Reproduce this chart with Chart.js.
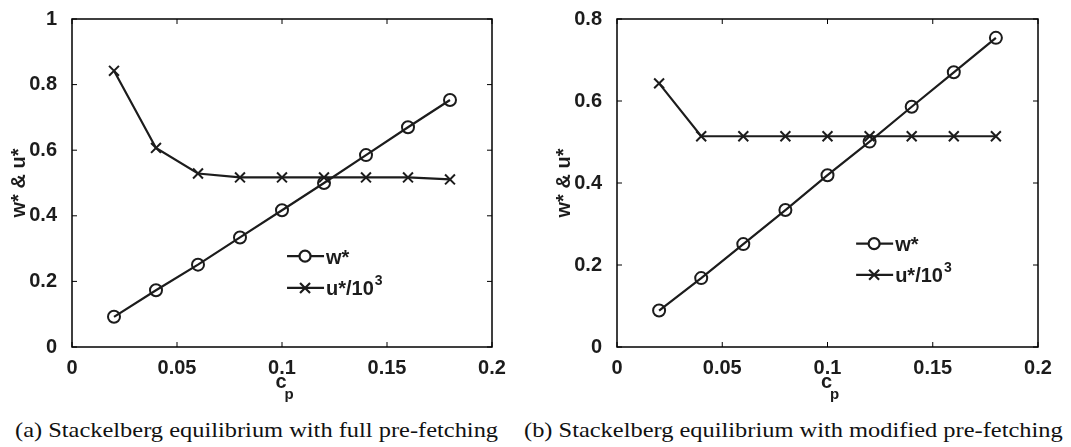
<!DOCTYPE html>
<html>
<head>
<meta charset="utf-8">
<script src="https://cdn.jsdelivr.net/npm/chart.js@4.4.0/dist/chart.umd.min.js"></script>
<style>
  body { margin: 0; background: #fff; width: 1071px; height: 447px; overflow: hidden; position: relative; }
  canvas { position: absolute; top: 0; }
  #chartA { left: 0; }
  #chartB { left: 535px; }
  .cap { position: absolute; top: 417px; font-family: "Liberation Serif", "Times New Roman", serif; font-size: 22px; color: #111; white-space: nowrap; transform: scaleX(1.11); transform-origin: left top; }
</style>
</head>
<body>
<canvas id="chartA" width="535" height="412"></canvas>
<canvas id="chartB" width="536" height="412"></canvas>
<div class="cap" id="capA" style="left:15px"></div>
<div class="cap" id="capB" style="left:524px"></div>
<script>
const cp = [0.02, 0.04, 0.06, 0.08, 0.1, 0.12, 0.14, 0.16, 0.18]
const wFull = [0.092, 0.173, 0.251, 0.334, 0.417, 0.5, 0.585, 0.67, 0.753]
const uFull = [0.842, 0.607, 0.529, 0.517, 0.517, 0.517, 0.517, 0.517, 0.511]
const wMod = [0.089, 0.168, 0.251, 0.334, 0.419, 0.501, 0.586, 0.67, 0.754]
const uMod = [0.643, 0.514, 0.514, 0.514, 0.514, 0.514, 0.514, 0.514, 0.514]
const legendLabels = ['w*', 'u*/10']
const captions = ['(a) Stackelberg equilibrium with full pre-fetching', '(b) Stackelberg equilibrium with modified pre-fetching']

document.getElementById('capA').textContent = captions[0]
document.getElementById('capB').textContent = captions[1]

const ink = '#1c1c1c'
const sans = '"Liberation Sans", Arial, sans-serif'
const boldFont = size => ({ family: sans, size: size, weight: 'bold' })

const toPoints = ys => cp.map((x, i) => ({ x: x, y: ys[i] }))

// box around plot + inward ticks like matlab, x label with subscript, legend
const matlabStuff = {
    id: 'matlabStuff',
    afterDraw(chart, args, opts) {
        const ctx = chart.ctx
        const a = chart.chartArea
        const xs = chart.scales.x, ys = chart.scales.y
        ctx.save()
        ctx.strokeStyle = '#000'
        ctx.lineWidth = 1.5
        ctx.strokeRect(a.left, a.top, a.right - a.left, a.bottom - a.top)
        ctx.lineWidth = 1
        ctx.beginPath()
        xs.ticks.forEach(t => {
            const px = xs.getPixelForValue(t.value)
            ctx.moveTo(px, a.bottom); ctx.lineTo(px, a.bottom - 5)
            ctx.moveTo(px, a.top); ctx.lineTo(px, a.top + 5)
        })
        ys.ticks.forEach(t => {
            const py = ys.getPixelForValue(t.value)
            ctx.moveTo(a.left, py); ctx.lineTo(a.left + 5, py)
            ctx.moveTo(a.right, py); ctx.lineTo(a.right - 5, py)
        })
        ctx.stroke()

        // x label c_p
        const cx = (a.left + a.right) / 2
        ctx.fillStyle = ink
        ctx.textAlign = 'center'
        ctx.textBaseline = 'alphabetic'
        ctx.font = 'bold 20px ' + sans
        ctx.fillText('c', cx - 1, a.bottom + 41)
        ctx.font = 'bold 15px ' + sans
        ctx.fillText('p', cx + 7, a.bottom + 52)

        // legend
        const lx = a.left + opts.lx * (a.right - a.left)
        const rowY = opts.rows.map(r => a.top + r * (a.bottom - a.top))
        ctx.strokeStyle = ink
        ctx.lineWidth = 2.2
        ctx.textBaseline = 'middle'
        rowY.forEach((y, i) => {
            ctx.beginPath()
            ctx.moveTo(lx, y); ctx.lineTo(lx + 37, y)
            ctx.stroke()
            const mx = lx + 18
            ctx.beginPath()
            if (i === 0) {
                ctx.fillStyle = '#fff'
                ctx.arc(mx, y, 5.5, 0, Math.PI * 2)
                ctx.fill()
            } else {
                ctx.moveTo(mx - 5, y - 5); ctx.lineTo(mx + 5, y + 5)
                ctx.moveTo(mx + 5, y - 5); ctx.lineTo(mx - 5, y + 5)
            }
            ctx.stroke()
            ctx.fillStyle = ink
            ctx.textAlign = 'left'
            ctx.font = 'bold 20px ' + sans
            ctx.fillText(legendLabels[i], lx + 39, y + 2)
            if (i === 1) {
                const w = ctx.measureText(legendLabels[i]).width
                ctx.font = 'bold 14px ' + sans
                ctx.fillText('3', lx + 40 + w, y - 7)
            }
        })
        ctx.restore()
    }
}

const makeChart = (id, wData, uData, yMax, padLeft, padRight, legendPos) => {
    const ctx = document.getElementById(id).getContext('2d')
    return new Chart(ctx, {
        type: 'scatter',
        data: {
            datasets: [{
                label: legendLabels[0],
                data: toPoints(wData),
                showLine: true,
                borderColor: ink,
                borderWidth: 2.2,
                pointStyle: 'circle',
                pointRadius: 6,
                pointBorderWidth: 2,
                pointBackgroundColor: 'rgba(255,255,255,0)',
                pointBorderColor: ink
            }, {
                label: legendLabels[1],
                data: toPoints(uData),
                showLine: true,
                borderColor: ink,
                borderWidth: 2.2,
                pointStyle: 'crossRot',
                pointRadius: 7,
                pointBorderWidth: 2,
                pointBorderColor: ink
            }]
        },
        options: {
            responsive: false,
            animation: false,
            events: [],
            layout: { padding: { left: padLeft, right: padRight, top: 19, bottom: 0 } },
            plugins: {
                legend: { display: false },
                tooltip: { enabled: false },
                matlabStuff: legendPos
            },
            scales: {
                x: {
                    type: 'linear',
                    min: 0, max: 0.2,
                    grid: { display: false },
                    border: { display: false },
                    afterFit: s => { s.height = 65 },
                    ticks: {
                        stepSize: 0.05,
                        padding: 1,
                        color: ink,
                        font: boldFont(20),
                        maxRotation: 0,
                        callback: v => String(+v.toFixed(2))
                    }
                },
                y: {
                    min: 0, max: yMax,
                    grid: { display: false },
                    border: { display: false },
                    afterFit: s => { s.width = 72 },
                    title: { display: true, text: 'w* & u*', color: ink, font: boldFont(20), padding: { top: 7, bottom: 4 } },
                    ticks: {
                        stepSize: 0.2,
                        padding: 7,
                        color: ink,
                        font: boldFont(20),
                        callback: v => String(+v.toFixed(2))
                    }
                }
            }
        },
        plugins: [matlabStuff]
    })
}

makeChart('chartA', wFull, uFull, 1, 0, 43, { lx: 0.512, rows: [0.723, 0.82] })
makeChart('chartB', wMod, uMod, 0.8, 10, 33, { lx: 0.568, rows: [0.685, 0.78] })
</script>
</body>
</html>
